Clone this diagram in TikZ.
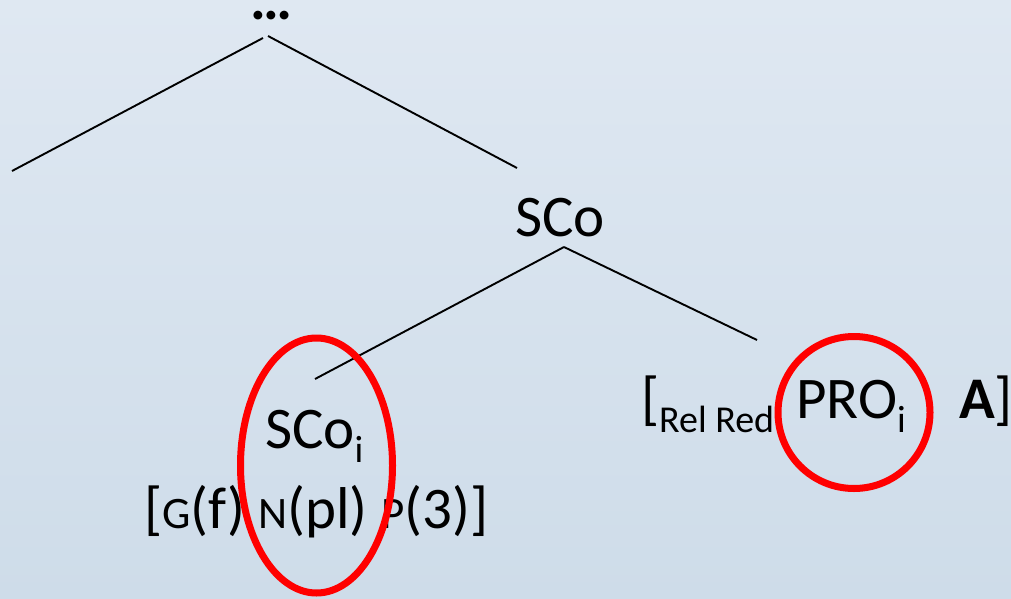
\documentclass[tikz,border=0pt]{standalone}
\usepackage{fontspec}
\setmainfont{Carlito}
\definecolor{bgtop}{RGB}{223,232,242}
\definecolor{bgbot}{RGB}{206,220,233}
\definecolor{ring}{RGB}{255,0,0}
\newcommand{\bigsz}{\fontsize{59}{62}\selectfont}
\newcommand{\subsz}{\fontsize{38}{40}\selectfont}
\newcommand{\capsz}{\fontsize{45}{48}\selectfont}
\begin{document}
\begin{tikzpicture}[x=1pt,y=-1pt,
  lbl/.style={inner sep=0pt, outer sep=0pt, anchor=base west, font=\bigsz},
  branch/.style={line width=1.9pt, black},
  mark ring/.style={draw=ring, line width=7pt}]
\shade[top color=bgtop, bottom color=bgbot] (0,0) rectangle (1011,599);
\useasboundingbox (0,0) rectangle (1011,599);

% text nodes
\node[lbl, anchor=base, text height=6pt] (top) at (271,20) {\textbf{…}};
\node[lbl] (sco) at (515,236) {SCo};
\node[lbl] (scoi) at (265,448) {SCo\raisebox{-14pt}{\subsz i}};
\node[lbl] (feat) at (144,528) {[{\capsz G}(f) {\capsz N}(pl) {\capsz P}(3)]};
\node[lbl] (rel) at (641,418) {[\raisebox{-14pt}{\subsz Rel Red}};
\node[lbl] (pro) at (796,418) {PRO\raisebox{-14pt}{\subsz i}};
\node[lbl] (adj) at (959,418) {\textbf{A}]};

% connector end points
\coordinate (ta) at (263,38);
\coordinate (tb) at (268,36);
\coordinate (tl) at (12,171);
\coordinate (tr) at (517,168);
\coordinate (sa) at (564,247);
\coordinate (sl) at (315,379);
\coordinate (sr) at (757,340);

\draw[branch] (ta) -- (tl);
\draw[branch] (tb) -- (tr);
\draw[branch] (sa) -- (sl);
\draw[branch] (sa) -- (sr);

% red rings
\draw[mark ring] (316.5,465.5) ellipse [x radius=76, y radius=127.5];
\draw[mark ring] (854,412.5) circle [radius=76];
\end{tikzpicture}
\end{document}
